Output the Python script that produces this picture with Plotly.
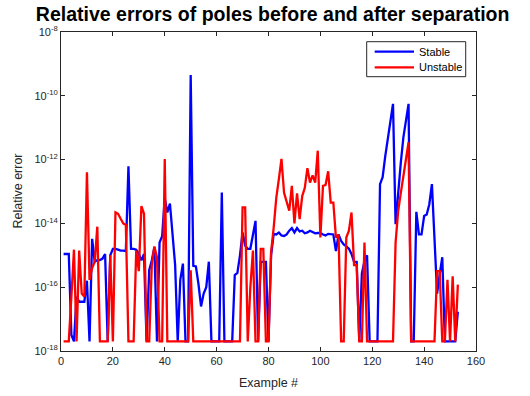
import plotly.graph_objects as go

F = 2e-18  # floor value seen in the plot

example = list(range(1, 154))

stable = [
    1.1e-15, 1.1e-15, 1.1e-15, 3.2e-18, F, 5e-17, 3.5e-17, 3.5e-17, 3.5e-17, 1.6e-16,
    F, 3.3e-15, 6.3e-16, 7.1e-16, 7.1e-16, 7.9e-16, 1.1e-15, F, 1e-15, 1.6e-15,
    1.6e-15, 1.5e-15, 1.4e-15, 1.4e-15, 1.35e-15, 6.2e-13, 1.6e-15, 1.6e-15, 1.5e-15, 1.1e-15,
    6.9e-16, 1.1e-15, F, 3.4e-16, 6.9e-16, 1.8e-15, F, 2.5e-15, 4e-15, 6.3e-14,
    2.2e-14, 4.2e-14, 5e-15, 5e-16, F, 1.7e-16, 5.5e-16, F, F, 4.5e-10,
    4.7e-16, 4.5e-16, 1.26e-16, 2.5e-17, 6.3e-17, 1e-16, 6.3e-16, F, F, F,
    F, 9.3e-14, F, F, F, F, 2.4e-16, 2.8e-16, 1e-15, 5.2e-15,
    2e-15, 1.6e-15, 1.6e-15, 4e-15, 1.2e-14, F, 6.2e-16, 6.2e-16, 6.2e-16, F,
    1e-15, 4.7e-15, 4.5e-15, 5.2e-15, 4.2e-15, 4e-15, 4.5e-15, 5.9e-15, 7.1e-15, 5.2e-15,
    7.1e-15, 5.6e-15, 5.9e-15, 4.9e-15, 5.2e-15, 5.9e-15, 5.5e-15, 4.9e-15, 5e-15, 5e-15,
    4.5e-15, 4.2e-15, 4.7e-15, 4.7e-15, 4.5e-15, 1.35e-15, 4.5e-15, 2.8e-15, 2.2e-15, 1.9e-15,
    1.6e-15, 1.1e-15, 6.2e-16, 6.2e-16, F, 2.7e-16, 6.6e-16, 1e-15, F, F,
    F, F, 1.7e-13, 2.8e-13, 1.26e-12, 5e-12, 1.8e-11, 5.6e-11, 9.5e-15, 1.1e-13,
    7.9e-13, 5e-12, 1.6e-11, 5.6e-11, F, F, 2.3e-14, 4.5e-15, 4.5e-15, 1.7e-14,
    1.9e-14, 4e-14, 1.7e-13, 3.2e-15, 6.3e-17, 2.5e-16, 8.7e-16, F, F, F,
    F, F, 1.7e-17,
]

unstable = [
    F, F, F, 5e-17, 1.5e-15, F, 1.4e-15, 6.3e-17, 5e-17, 4e-13,
    1.7e-16, 4e-16, 6.3e-16, 7.9e-15, F, F, F, F, 1e-15, F,
    2.2e-14, 2e-14, 1.4e-14, 1e-14, 8.9e-15, F, F, F, 1.4e-15, 3.2e-16,
    3.5e-14, 2e-14, F, F, 5e-16, 1.9e-15, 8.7e-16, F, F, 1.05e-12,
    F, F, F, F, F, F, F, F, F, 3.4e-16,
    F, F, F, F, F, F, F, F, F, F,
    F, F, F, F, F, F, F, F, F, 3.2e-14,
    3.2e-14, F, 1e-16, 1.4e-15, F, F, 1.6e-15, 1.6e-15, F, F,
    1.26e-15, 7.4e-15, 6.3e-14, 2.5e-13, 1.05e-12, 9.1e-14, 4.5e-14, 2.5e-14, 1.5e-13, 1e-14,
    8.7e-14, 1.35e-14, 7.2e-14, 1.3e-13, 5.4e-13, 1.9e-13, 3.2e-13, 1.9e-13, 1.9e-12, 3.6e-15,
    1.5e-13, 1.6e-13, 4.3e-13, 4.5e-14, 4.5e-14, 3.6e-15, 4.4e-15, F, F, 3.6e-15,
    5.9e-15, 2.2e-14, 4.9e-16, 4.9e-16, F, F, 2.5e-15, F, F, F,
    F, F, F, F, F, F, F, F, 2.5e-15, 2.5e-14,
    8.9e-14, 3.2e-13, 1e-12, 3.5e-12, F, F, F, F, F, F,
    F, F, F, F, 3.2e-16, 3.2e-16, F, F, 1.7e-16, F,
    2.2e-16, F, 1.2e-16,
]

series_names = ["Stable", "Unstable"]
series_colors = ["#0000FF", "#FF0000"]

x_ticks = [0, 20, 40, 60, 80, 100, 120, 140, 160]
y_ticks = [1e-18, 1e-16, 1e-14, 1e-12, 1e-10, 1e-8]
y_tick_text = ["10<sup>-18</sup>", "10<sup>-16</sup>", "10<sup>-14</sup>",
               "10<sup>-12</sup>", "10<sup>-10</sup>", "10<sup>-8</sup>"]

FONT = "Liberation Sans, Arial, Helvetica, sans-serif"
AX = "#262626"

fig = go.Figure()
for name, ys, col in zip(series_names, [stable, unstable], series_colors):
    fig.add_trace(go.Scatter(x=example, y=ys, mode="lines", name=name,
                             showlegend=False, line=dict(color=col, width=2.3)))

# legend box drawn in paper coordinates (MATLAB-style compact legend)
leg_x0, leg_x1, leg_y0, leg_y1 = 0.7366, 0.9752, 0.8599, 0.9696
line_x0, line_x1, text_x = 0.7559, 0.8506, 0.857
row_y = [0.9382, 0.8893]

shapes = [dict(type="rect", xref="paper", yref="paper", x0=leg_x0, x1=leg_x1,
               y0=leg_y0, y1=leg_y1, line=dict(color=AX, width=1), fillcolor="white",
               layer="above")]
annotations = []
for name, col, ry in zip(series_names, series_colors, row_y):
    shapes.append(dict(type="line", xref="paper", yref="paper", x0=line_x0, x1=line_x1,
                       y0=ry, y1=ry, line=dict(color=col, width=2.3), layer="above"))
    annotations.append(dict(text=name, xref="paper", yref="paper", x=text_x, y=ry,
                            xanchor="left", yanchor="middle", showarrow=False,
                            font=dict(family=FONT, size=11, color="black")))

annotations += [
    dict(text="Example #", xref="paper", yref="paper", x=0.5, y=-(383 - 351) / 319,
         xanchor="center", yanchor="middle", showarrow=False,
         font=dict(family=FONT, size=12.5, color=AX)),
    dict(text="Relative error", xref="paper", yref="paper", x=(17 - 61) / 415, y=0.5,
         xanchor="center", yanchor="middle", showarrow=False, textangle=-90,
         font=dict(family=FONT, size=12.5, color=AX)),
]

fig.update_layout(
    width=530, height=396,
    margin=dict(l=61, r=54, t=32, b=45),
    paper_bgcolor="white", plot_bgcolor="white",
    font=dict(family=FONT, color=AX, size=11),
    title=dict(text="<b>Relative errors of poles before and after separation</b>",
               x=0.51, xref="paper", xanchor="center",
               y=1 - 14 / 396, yref="container", yanchor="middle",
               font=dict(family=FONT, size=19.5, color="black")),
    showlegend=False,
    xaxis=dict(range=[0, 160], tickvals=x_ticks, ticks="inside", ticklen=4,
               showline=True, linecolor=AX, linewidth=1, mirror="ticks",
               showgrid=False, zeroline=False, tickcolor=AX,
               tickfont=dict(size=11, color=AX)),
    yaxis=dict(type="log", range=[-18, -8], tickvals=y_ticks, ticktext=y_tick_text,
               ticks="inside", ticklen=4, showline=True, linecolor=AX, linewidth=1,
               mirror="ticks", showgrid=False, zeroline=False, tickcolor=AX,
               tickfont=dict(size=11, color=AX)),
    shapes=shapes,
    annotations=annotations,
)

fig.write_html("out.html",
               config={"displayModeBar": False},
               post_script="document.body.style.margin='0';"
                           "document.documentElement.style.overflow='hidden';")
